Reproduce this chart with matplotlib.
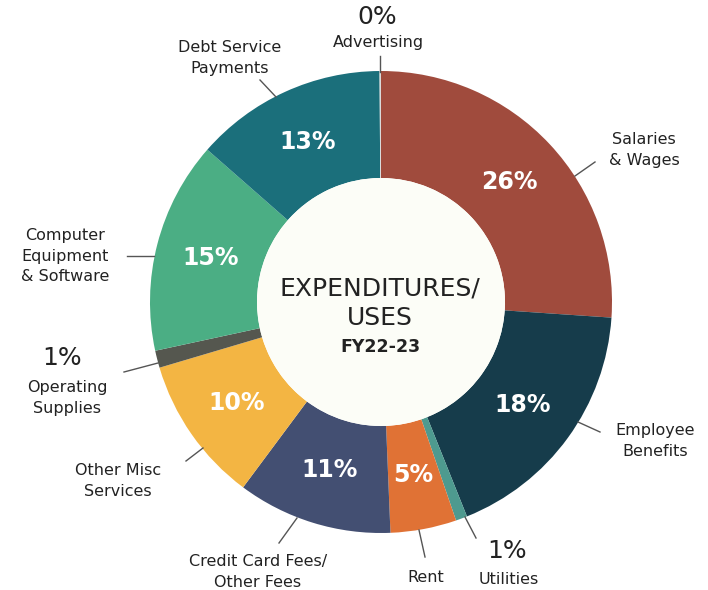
import matplotlib.pyplot as plt
from matplotlib.patches import Circle

# FY22-23 expenditures, clockwise from the top (percent)
categories = ["Salaries\n& Wages", "Employee\nBenefits", "Utilities", "Rent",
              "Credit Card Fees/\nOther Fees", "Other Misc\nServices",
              "Operating\nSupplies", "Computer\nEquipment\n& Software",
              "Debt Service\nPayments", "Advertising"]
shares = [26.0, 17.8, 0.8, 4.6, 10.8, 10.2, 1.2, 14.8, 13.4, 0.1]
colors = ["#A04B3D", "#163C4B", "#4E9A8F", "#E07235", "#434F72",
          "#F3B543", "#55574F", "#4BAE84", "#1B6F7B", "#DADADA"]

W, H = 708, 590
def px(x, y):
    # picture pixel -> data coords (y up)
    return (x, H - y)

CX, CY, R, R_IN = 381, 302, 231, 124
txt = "#222222"

plt.rcParams['font.family'] = ['DejaVu Sans']
fig = plt.figure(figsize=(W / 100, H / 100), dpi=100)
ax = fig.add_axes([0, 0, 1, 1])

def pct(p):
    return "%d%%" % round(p) if p >= 2 else ""

wedges, _, autotexts = ax.pie(shares, colors=colors, startangle=90, counterclock=False,
                              radius=R, center=px(CX, CY),
                              wedgeprops=dict(width=R - R_IN, linewidth=0),
                              autopct=pct, pctdistance=0.76,
                              textprops=dict(color="white", fontsize=17, fontweight="bold"))
ax.add_patch(Circle(px(CX, CY), R_IN, facecolor="#FCFDF7", edgecolor="none", zorder=3))

ax.text(*px(380, 289), "EXPENDITURES/", ha="center", va="center", fontsize=18,
        color=txt, zorder=4)
ax.text(*px(380, 318), "USES", ha="center", va="center", fontsize=18,
        color=txt, zorder=4)
ax.text(*px(380, 347), "FY22-23", ha="center", va="center", fontsize=12.5,
        color=txt, fontweight="bold", zorder=4)

# outer labels: (text position, leader line from, leader line to)
labels_layout = {
    0: ((644, 150), (595, 162), (575, 176)),
    1: ((655, 441), (600, 432), (578, 422)),
    2: ((509, 579), (476, 538), (465, 517)),
    3: ((426, 577), (425, 557), (419, 530)),
    4: ((258, 572), (279, 543), (297, 518)),
    5: ((118, 481), (186, 461), (203, 448)),
    6: ((67, 398), (124, 372), (158, 363)),
    7: ((65, 256), (127, 256), (154, 256)),
    8: ((230, 58), (260, 80), (276, 97)),
    9: ((378, 43), (380, 56), (380, 72)),
}
for i, (pos, a, b) in labels_layout.items():
    ax.text(*px(*pos), categories[i], ha="center", va="center", fontsize=11.5,
            color=txt, linespacing=1.45)
    ax.plot([a[0], b[0]], [H - a[1], H - b[1]], color="#555555", lw=1)

# small slices get their percentage above the name
for i, pos in [(2, (507, 551)), (6, (62, 358)), (9, (377, 17))]:
    ax.text(*px(*pos), "%d%%" % round(shares[i]), ha="center", va="center",
            fontsize=18, color=txt)

ax.set_xlim(0, W)
ax.set_ylim(0, H)
ax.set_aspect("equal")
ax.axis("off")
fig.savefig("out.png", dpi=100, facecolor="white")
